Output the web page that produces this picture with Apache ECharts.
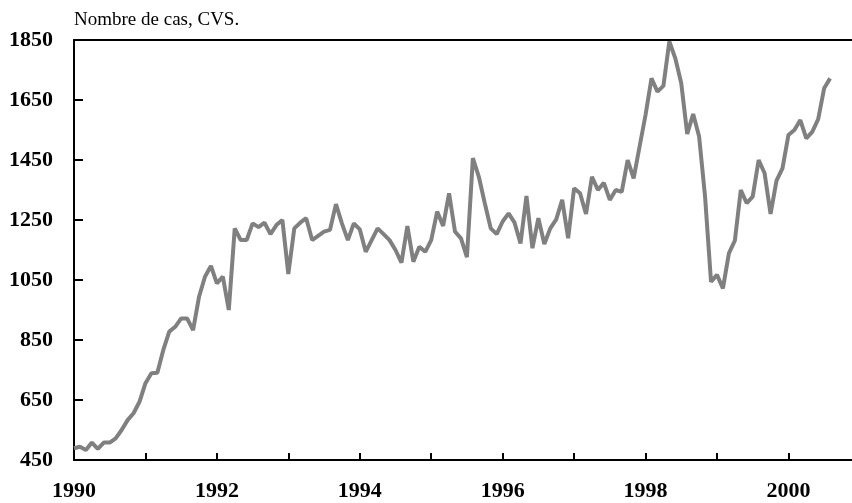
<!DOCTYPE html>
<html>
<head>
<meta charset="utf-8">
<script src="https://cdn.jsdelivr.net/npm/echarts@6/dist/echarts.min.js"></script>
<style>
  html, body { margin: 0; padding: 0; background: #fff; }
  #lineChart { width: 852px; height: 503px; }
</style>
</head>
<body>
<div id="lineChart"></div>
<script>
// monthly series, january 1990 onwards
var startYear = 1990;
var caseCounts = [
    489, 494, 483, 508, 487, 508, 508, 522, 550, 583, 606, 644,
    706, 739, 741, 817, 878, 894, 922, 922, 883, 994, 1061, 1097,
    1039, 1061, 950, 1222, 1183, 1183, 1239, 1226, 1241, 1203, 1233, 1250,
    1070, 1222, 1241, 1256, 1183, 1197, 1211, 1217, 1303, 1239, 1183, 1239,
    1219, 1144, 1183, 1222, 1203, 1183, 1150, 1108, 1230, 1111, 1161, 1144,
    1183, 1278, 1230, 1339, 1211, 1189, 1126, 1456, 1394, 1306, 1222, 1203,
    1245, 1272, 1241, 1172, 1330, 1156, 1256, 1170, 1222, 1252, 1317, 1189,
    1356, 1339, 1270, 1394, 1350, 1374, 1317, 1350, 1344, 1450, 1389, 1495,
    1600, 1722, 1678, 1697, 1845, 1789, 1706, 1537, 1603, 1528, 1328, 1044,
    1067, 1022, 1139, 1181, 1350, 1306, 1328, 1450, 1406, 1270, 1381, 1422,
    1533, 1550, 1583, 1522, 1544, 1586, 1689, 1722
];
var yearTicks = [1990, 1991, 1992, 1993, 1994, 1995, 1996, 1997, 1998, 1999, 2000];
var yearLabels = [1990, 1992, 1994, 1996, 1998, 2000];
var valueTicks = [450, 650, 850, 1050, 1250, 1450, 1650, 1850];
var chartTitle = 'Nombre de cas, CVS.';

function plainNumber(value) {
    // no thousands separator
    return String(Math.round(value));
}

function createLineChart(chartId) {
    var myChart = echarts.init(document.getElementById(chartId));

    var seriesData = [];
    caseCounts.forEach(function (item, index) {
        seriesData.push([startYear + index / 12, item]);
    });

    var labelFont = {
        fontFamily: 'Liberation Serif',
        fontWeight: 'bold',
        fontSize: 22,
        color: '#000'
    };

    var option = {
        animation: false,
        title: {
            text: chartTitle,
            left: 74,
            top: 11,
            padding: 0,
            textStyle: {
                fontFamily: 'Liberation Serif',
                fontWeight: 'normal',
                fontSize: 19,
                color: '#000'
            }
        },
        grid: { left: 74, right: 0, top: 40, bottom: 43 },
        xAxis: [{
            type: 'value',
            min: 1990,
            max: 2000.89,
            axisLine: { lineStyle: { color: '#000', width: 2 } },
            axisTick: {
                inside: true,
                length: 7,
                customValues: yearTicks,
                lineStyle: { color: '#000', width: 2 }
            },
            axisLabel: Object.assign({
                margin: 20,
                customValues: yearLabels,
                formatter: plainNumber
            }, labelFont),
            splitLine: { show: false }
        }, {
            // plain line along the top edge
            type: 'value',
            position: 'top',
            min: 1990,
            max: 2000.89,
            axisLine: { lineStyle: { color: '#000', width: 2 } },
            axisTick: { show: false },
            axisLabel: { show: false },
            splitLine: { show: false }
        }],
        yAxis: {
            type: 'value',
            min: 450,
            max: 1850,
            axisLine: { show: true, lineStyle: { color: '#000', width: 2 } },
            axisTick: {
                show: true,
                inside: true,
                length: 9,
                customValues: valueTicks,
                lineStyle: { color: '#000', width: 2 }
            },
            axisLabel: Object.assign({
                margin: 21,
                customValues: valueTicks,
                formatter: plainNumber
            }, labelFont),
            splitLine: { show: false }
        },
        series: [{
            type: 'line',
            xAxisIndex: 0,
            data: seriesData,
            symbol: 'none',
            clip: false,
            lineStyle: { color: '#808080', width: 4 }
        }]
    };

    myChart.setOption(option);
}

createLineChart('lineChart');
</script>
</body>
</html>
